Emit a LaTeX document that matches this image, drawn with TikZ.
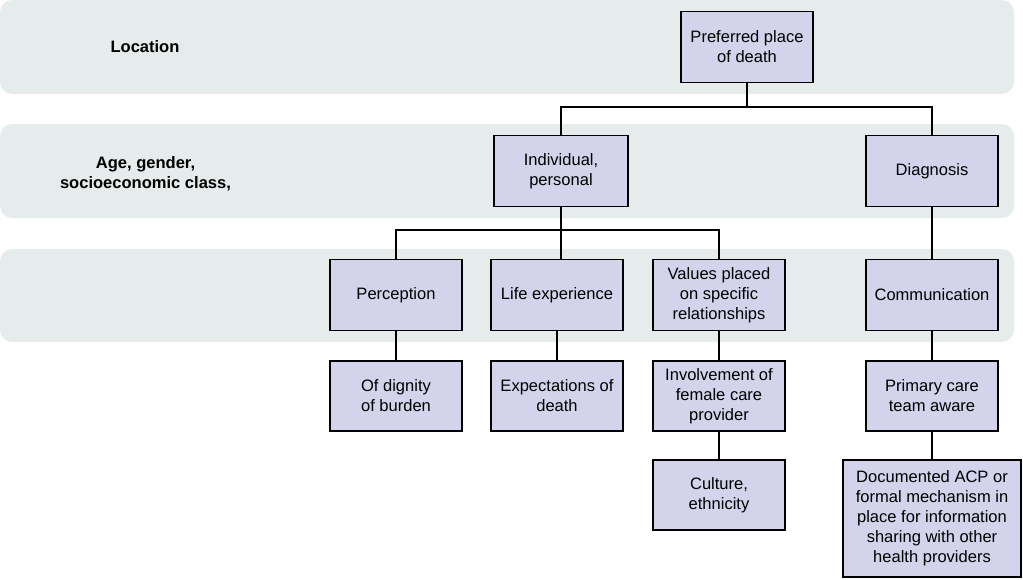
\documentclass[tikz,border=0pt]{standalone}
\usepackage{fontspec}
\setmainfont{Liberation Sans}
\definecolor{bandgray}{HTML}{E6ECEC}
\definecolor{boxlilac}{HTML}{D3D3EB}
\begin{document}
\begin{tikzpicture}[x=0.75pt, y=-0.75pt,
    band/.style={fill=bandgray, draw=none, rounded corners=9pt},
    factor/.style={draw=black, line width=1.1pt, fill=boxlilac, align=center,
      minimum width=99pt, minimum height=53pt, inner sep=2pt,
      font=\fontsize{12.4}{15}\selectfont},
    rowlabel/.style={align=center, font=\fontsize{12.4}{15}\selectfont\bfseries},
    link/.style={draw=black, line width=1.1pt}]
  \useasboundingbox (0,0) rectangle (1023,579);
  % background bands
  \fill[band] (0,0) rectangle (1014,94);
  \fill[band] (0,124) rectangle (1014,218);
  \fill[band] (0,249) rectangle (1014,342);
  \node[rowlabel] (loc) at (145,47) {Location};
  \node[rowlabel] (age) at (145.5,174) {Age, gender,\\socioeconomic class,};
  % boxes
  \node[factor] (pref) at (747,47) {Preferred place\\of death};
  \node[factor, minimum width=100.5pt] (indiv) at (561,171) {Individual,\\personal};
  \node[factor] (diag) at (932,171) {Diagnosis};
  \node[factor] (perc) at (396,295) {Perception};
  \node[factor] (life) at (557,295) {Life experience};
  \node[factor] (values) at (719,295) {Values placed\\on specific\\relationships};
  \node[factor] (comm) at (932,295) {Communication};
  \node[factor, minimum height=52.5pt] (dign) at (396,396) {Of dignity\\of burden};
  \node[factor, minimum height=52.5pt] (expect) at (557,396) {Expectations of\\death};
  \node[factor, minimum height=52.5pt] (involve) at (719,396) {Involvement of\\female care\\provider};
  \node[factor, minimum height=52.5pt] (primary) at (932,396) {Primary care\\team aware};
  \node[factor, minimum height=52.5pt] (culture) at (719,495) {Culture,\\ethnicity};
  \node[factor, minimum width=133.5pt, minimum height=87.75pt] (doc) at (932,518.5)
    {Documented ACP or\\formal mechanism in\\place for information\\sharing with other\\health providers};
  % connectors
  \draw[link] (pref.south) -- ++(0,24) -| (indiv.north);
  \draw[link] (pref.south) -- ++(0,24) -| (diag.north);
  \draw[link] (indiv.south) -- ++(0,23) -| (perc.north);
  \draw[link] (indiv.south) -- (life.north -| indiv.south);
  \draw[link] (indiv.south) -- ++(0,23) -| (values.north);
  \draw[link] (diag) -- (comm);
  \draw[link] (perc) -- (dign);
  \draw[link] (life) -- (expect);
  \draw[link] (values) -- (involve);
  \draw[link] (comm) -- (primary);
  \draw[link] (involve) -- (culture);
  \draw[link] (primary) -- (doc);
\end{tikzpicture}
\end{document}
